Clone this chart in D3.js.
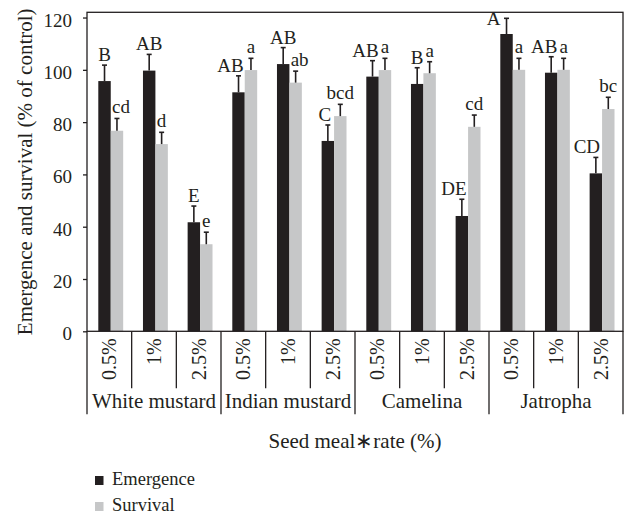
<!DOCTYPE html>
<html>
<head>
<meta charset="utf-8">
<script src="https://d3js.org/d3.v7.min.js"></script>
<style>
    body { margin: 0; background: #fff; }
    text { font-family: "Liberation Serif", "Times New Roman", serif; fill: #231f20; }
</style>
</head>
<body>
<div id="chart"></div>
<script>
// Data
var groups = ["White mustard", "Indian mustard", "Camelina", "Jatropha"];
var rates = ["0.5%", "1%", "2.5%"];
var seriesNames = ["Emergence", "Survival"];

var emergence    = [95.7, 99.7, 41.7, 91.4, 102.2, 72.8, 97.4, 94.6, 44.1, 113.7, 98.9, 60.4];
var emergenceErr = [6.1, 6.2, 6.2, 6.3, 6.3, 6.1, 6.1, 6.2, 6.4, 6.0, 6.1, 6.1];
var survival     = [76.7, 71.6, 33.3, 99.9, 95.1, 82.3, 99.9, 98.7, 78.2, 100, 100, 85.0];
var survivalErr  = [4.7, 4.5, 4.6, 4.5, 4.4, 4.5, 4.5, 4.4, 4.5, 4.4, 4.4, 4.5];

var emergenceLetters = ["B", "AB", "E", "AB", "AB", "C", "AB", "B", "DE", "A", "AB", "CD"];
var survivalLetters  = ["cd", "d", "e", "a", "ab", "bcd", "a", "a", "cd", "a", "a", "bc"];

var yTicks = [0, 20, 40, 60, 80, 100, 120];

// Set up the dimensions and margins of the graph
var margin = {top: 12.3, right: 2, bottom: 183.7, left: 87},
    width = 625 - margin.left - margin.right,
    height = 515 - margin.top - margin.bottom;

var root = d3.select("#chart")
    .append("svg")
        .attr("width", 625)
        .attr("height", 515);

var svg = root.append("g")
        .attr("transform", "translate(" + margin.left + "," + margin.top + ")");

// categories = group x rate
var categories = [];
groups.forEach(g => rates.forEach(r => categories.push(g + "|" + r)));

var rows = categories.map((c, i) => ({
    cat: c,
    rate: c.split("|")[1],
    bars: [
        {key: "Emergence", value: emergence[i], err: emergenceErr[i], letter: emergenceLetters[i]},
        {key: "Survival", value: survival[i], err: survivalErr[i], letter: survivalLetters[i]}
    ]
}));

// X scales
var x = d3.scaleBand()
    .domain(categories)
    .range([0, width])
    .padding(0);
var bw = x.bandwidth();

var xSub = d3.scaleBand()
    .domain(seriesNames)
    .range([bw * 0.253, bw * 0.81])
    .padding(0);

// Y scale
var y = d3.scaleLinear()
    .domain([0, 122])
    .range([height, 0]);

var color = d3.scaleOrdinal()
    .domain(seriesNames)
    .range(["#231f20", "#c6c7c8"]);

// Y axis
var yAxis = svg.append("g")
    .call(d3.axisLeft(y).tickValues(yTicks).tickSize(4).tickPadding(11));
yAxis.select(".domain").remove();
yAxis.selectAll("line").attr("stroke", "#231f20").attr("stroke-width", 1.3);
yAxis.selectAll("text")
    .attr("dy", "0.45em")
    .style("font-family", "Liberation Serif")
    .style("font-size", "19px")
    .style("fill", "#231f20");

// Bars
var cat = svg.append("g")
    .selectAll("g")
    .data(rows)
    .enter().append("g")
    .attr("transform", d => "translate(" + x(d.cat) + ",0)");

cat.selectAll("rect")
    .data(d => d.bars)
    .enter().append("rect")
    .attr("x", d => xSub(d.key))
    .attr("y", d => y(d.value))
    .attr("width", xSub.bandwidth())
    .attr("height", d => height - y(d.value))
    .attr("fill", d => color(d.key));

// Error bars (upper only)
var err = cat.selectAll("g.err")
    .data(d => d.bars)
    .enter().append("g")
    .attr("class", "err")
    .attr("stroke", "#231f20")
    .attr("stroke-width", 1.6);

err.append("line")
    .attr("x1", d => xSub(d.key) + xSub.bandwidth() / 2)
    .attr("x2", d => xSub(d.key) + xSub.bandwidth() / 2)
    .attr("y1", d => y(d.value))
    .attr("y2", d => y(d.value + d.err));

err.append("line")
    .attr("x1", d => xSub(d.key) + xSub.bandwidth() / 2 - 2.5)
    .attr("x2", d => xSub(d.key) + xSub.bandwidth() / 2 + 2.5)
    .attr("y1", d => y(d.value + d.err))
    .attr("y2", d => y(d.value + d.err));

// Significance letters, nudged where they sit beside the error bar
var emNudge = [0, 0, 0, -8, 0, -3, -7, 0, -8, -13, -7, -9];
var svNudge = [4, 0, 0, 0, 4, 0, 0, 0, 0, 0, 0, 0];

cat.each(function(d, i) {
    var g = d3.select(this);
    d.bars.forEach(b => {
        var em = b.key === "Emergence";
        var cx = xSub(b.key) + xSub.bandwidth() / 2 + (em ? emNudge[i] : svNudge[i]);
        var by = y(b.value + b.err) - (em ? 4 : 5);
        if (em && i === 9) by += 11;
        g.append("text")
            .attr("x", cx)
            .attr("y", by)
            .attr("text-anchor", "middle")
            .style("font-size", "19px")
            .text(b.letter);
    });
});

// Frame
svg.append("rect")
    .attr("x", 0)
    .attr("y", 0)
    .attr("width", width)
    .attr("height", height)
    .attr("fill", "none")
    .attr("stroke", "#231f20")
    .attr("stroke-width", 1.3);

// Category separators below the axis
var bounds = d3.range(categories.length + 1);
svg.append("g")
    .selectAll("line")
    .data(bounds)
    .enter().append("line")
    .attr("x1", i => i * bw)
    .attr("x2", i => i * bw)
    .attr("y1", height)
    .attr("y2", i => height + (i % 3 === 0 ? 83 : 57))
    .attr("stroke", "#231f20")
    .attr("stroke-width", 1.3);

// Rate labels (rotated)
svg.append("g")
    .selectAll("text")
    .data(rows)
    .enter().append("text")
    .attr("transform", d => "translate(" + (x(d.cat) + bw / 2) + "," + (height + 7) + ") rotate(-90)")
    .attr("dy", "0.35em")
    .attr("text-anchor", "end")
    .style("font-size", "20px")
    .text(d => d.rate);

// Seed meal group labels
svg.append("g")
    .selectAll("text")
    .data(groups)
    .enter().append("text")
    .attr("x", (d, i) => (i * 3 + 1.5) * bw)
    .attr("y", height + 77)
    .attr("text-anchor", "middle")
    .style("font-size", "21px")
    .text(d => d);

// X axis label
svg.append("text")
    .attr("x", width / 2)
    .attr("y", height + 117)
    .attr("text-anchor", "middle")
    .style("font-size", "21px")
    .text("Seed meal\u2217rate (%)");

// Y axis label
svg.append("text")
    .attr("transform", "translate(" + (31.5 - margin.left) + "," + (height / 2) + ") rotate(-90)")
    .attr("text-anchor", "middle")
    .style("font-size", "21px")
    .text("Emergence and survival (% of control)");

// Legend
var legend = root.append("g")
    .selectAll("g")
    .data(seriesNames)
    .enter().append("g")
    .attr("transform", (d, i) => "translate(95," + (476 + i * 26) + ")");

legend.append("rect")
    .attr("width", 8.5)
    .attr("height", 9)
    .attr("fill", d => color(d));

legend.append("text")
    .attr("x", 17)
    .attr("y", 9)
    .style("font-size", "18.5px")
    .text(d => d);
</script>
</body>
</html>
